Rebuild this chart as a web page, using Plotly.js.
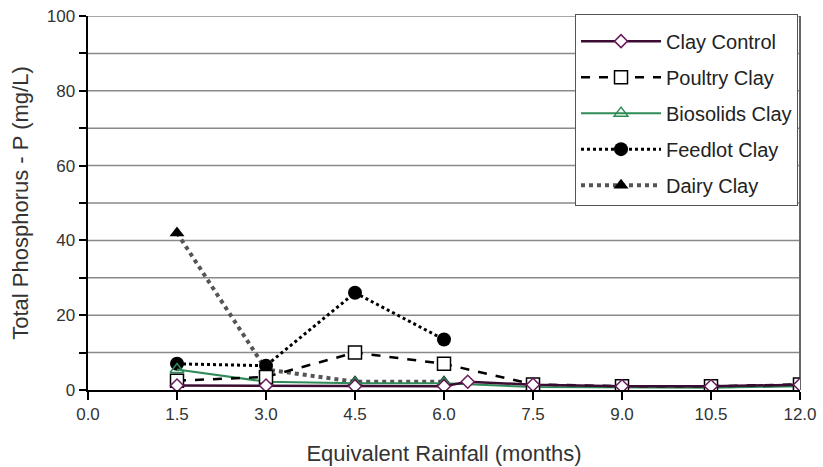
<!DOCTYPE html>
<html>
<head>
<meta charset="utf-8">
<script src="https://cdn.plot.ly/plotly-3.0.1.min.js"></script>
<style>html,body{margin:0;padding:0;background:#fff;}#chart{width:823px;height:467px;}</style>
</head>
<body>
<div id="chart"></div>
<script>
const xTicks = [0, 1.5, 3.0, 4.5, 6.0, 7.5, 9.0, 10.5, 12.0];
const xTickLabels = ["0.0", "1.5", "3.0", "4.5", "6.0", "7.5", "9.0", "10.5", "12.0"];

const clayControlX = [1.5, 3.0, 4.5, 6.0, 6.4, 7.5, 9.0, 10.5, 12.0];
const clayControlY = [1.2, 1.2, 1.0, 1.0, 2.2, 1.4, 1.0, 1.0, 1.4];

const poultryX = [1.5, 3.0, 4.5, 6.0, 7.5, 9.0, 10.5, 12.0];
const poultryY = [2.5, 3.5, 10.0, 7.0, 1.5, 1.0, 1.0, 1.5];

const biosolidsX = [1.5, 3.0, 4.5, 6.0, 7.5, 9.0, 10.5, 12.0];
const biosolidsY = [5.5, 2.2, 1.8, 1.8, 0.8, 0.6, 0.6, 1.0];

const feedlotX = [1.5, 3.0, 4.5, 6.0];
const feedlotY = [7.0, 6.5, 26.0, 13.5];

const dairyX = [1.5, 3.0, 4.5, 6.0];
const dairyY = [42.0, 5.5, 2.2, 2.2];

const traces = [
  {name: "Dairy Clay", x: dairyX, y: dairyY, mode: "lines+markers",
   line: {color: "#555555", width: 4, dash: "dot"},
   marker: {symbol: "triangle-up", size: 13, color: "#000"}},
  {name: "Feedlot Clay", x: feedlotX, y: feedlotY, mode: "lines+markers",
   line: {color: "#000", width: 3, dash: "dot"},
   marker: {symbol: "circle", size: 14, color: "#000"}},
  {name: "Biosolids Clay", x: biosolidsX, y: biosolidsY, mode: "lines+markers",
   line: {color: "#2e8b57", width: 2},
   marker: {symbol: "triangle-up-open", size: 12, color: "#2e8b57", line: {width: 1.5}}},
  {name: "Poultry Clay", x: poultryX, y: poultryY, mode: "lines+markers",
   line: {color: "#000", width: 2.5, dash: "dash"},
   marker: {symbol: "square", size: 13, color: "#fff", line: {color: "#000", width: 1.5}}},
  {name: "Clay Control", x: clayControlX, y: clayControlY, mode: "lines+markers",
   line: {color: "#3a0c32", width: 2.5},
   marker: {symbol: "diamond", size: 10, color: "#fff", line: {color: "#6a1a5a", width: 1.5}}}
];
traces.forEach((t, i) => { t.legendgroup = "g" + i; t.legendrank = 5 - i; });

const layout = {
  width: 823, height: 467,
  margin: {l: 88, r: 23, t: 16, b: 77},
  paper_bgcolor: "#fff", plot_bgcolor: "#fff",
  font: {family: "Liberation Sans, Arial, sans-serif", size: 17, color: "#333"},
  showlegend: true,
  legend: {x: 0.684, y: 1.005, xanchor: "left", yanchor: "top",
           bgcolor: "#fff", bordercolor: "#555", borderwidth: 1,
           font: {size: 20, color: "#222"}, tracegroupgap: 7,
           traceorder: "grouped", itemwidth: 80,
           title: {text: " ", font: {size: 5}}},
  xaxis: {range: [0, 12], tickvals: xTicks, ticktext: xTickLabels,
          showgrid: false, zeroline: false, showline: true, linecolor: "#000", linewidth: 2,
          ticks: "outside", ticklen: 8, tickwidth: 2, tickcolor: "#000",
          tickfont: {size: 17, color: "#333"},
          title: {text: "Equivalent Rainfall (months)", font: {size: 22, color: "#333"}, standoff: 22}},
  yaxis: {range: [0, 100], tickvals: [0, 20, 40, 60, 80, 100],
          showgrid: false, zeroline: false, showline: true, linecolor: "#000", linewidth: 2.5,
          ticks: "outside", ticklen: 7, tickwidth: 2, tickcolor: "#000",
          tickfont: {size: 17, color: "#333"},
          minor: {tickvals: [10, 30, 50, 70, 90], ticks: "outside", ticklen: 7, tickwidth: 2, tickcolor: "#000"},
          title: {text: "Total Phosphorus - P (mg/L)", font: {size: 22, color: "#333"}, standoff: 12}},
  shapes: []
};
for (let g = 10; g <= 100; g += 10) {
  layout.shapes.push({type: "line", xref: "paper", yref: "y", x0: 0, x1: 1, y0: g, y1: g,
    line: {color: "#8a8a8a", width: 1.5}, layer: "below"});
}
layout.shapes.push({type: "line", xref: "paper", yref: "paper", x0: 1, x1: 1, y0: 0, y1: 1,
  line: {color: "#666", width: 2}, layer: "below"});

Plotly.newPlot("chart", traces, layout, {displayModeBar: false, staticPlot: true});
</script>
</body>
</html>
